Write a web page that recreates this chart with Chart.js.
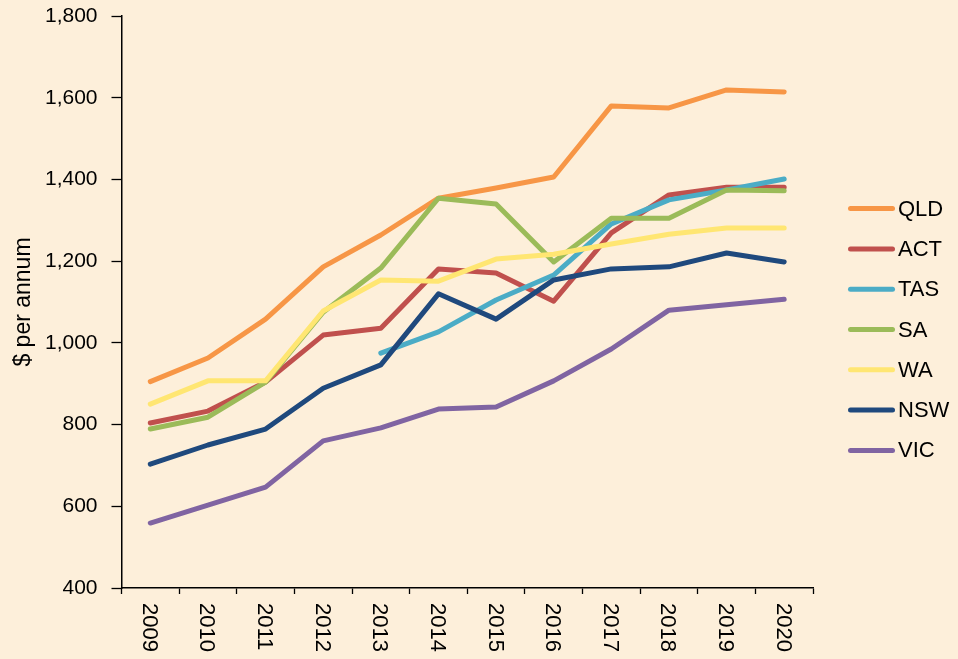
<!DOCTYPE html>
<html>
<head>
<meta charset="utf-8">
<script src="https://cdn.jsdelivr.net/npm/chart.js@4.4.1/dist/chart.umd.min.js"></script>
<style>
  html, body { margin: 0; padding: 0; background: #fdefda; }
  #wrap { width: 958px; height: 659px; }
</style>
</head>
<body>
<div id="wrap"><canvas id="chart" width="958" height="659"></canvas></div>
<script>
// Dados
const years = ['2009', '2010', '2011', '2012', '2013', '2014', '2015', '2016', '2017', '2018', '2019', '2020'];
const qld = [905, 963, 1058, 1186, 1264, 1354, 1379, 1406, 1580, 1575, 1619, 1614];
const act = [804, 833, 904, 1019, 1036, 1181, 1171, 1102, 1269, 1362, 1381, 1381];
const tas = [null, null, null, null, 975, 1027, 1105, 1166, 1291, 1350, 1374, 1401];
const sa = [789, 818, 904, 1075, 1183, 1354, 1340, 1198, 1305, 1305, 1374, 1372];
const wa = [850, 907, 907, 1078, 1154, 1151, 1205, 1217, 1242, 1266, 1281, 1281];
const nsw = [703, 750, 789, 889, 946, 1120, 1058, 1154, 1181, 1186, 1220, 1198];
const vic = [559, 603, 647, 760, 792, 838, 843, 907, 985, 1080, 1093, 1107];
const yTicks = [400, 600, 800, 1000, 1200, 1400, 1600, 1800];

const seriesNames = ['QLD', 'ACT', 'TAS', 'SA', 'WA', 'NSW', 'VIC'];
const seriesData = [qld, act, tas, sa, wa, nsw, vic];
const seriesColors = ['#f79646', '#c0504d', '#4bacc6', '#9bbb59', '#ffe672', '#1f497d', '#8064a2'];

const bg = '#fdefda';
const fontFamily = '"Liberation Sans", Arial, sans-serif';

// Fundo, rótulos do eixo X (girados no sentido horário) e legenda à direita
const customDraw = {
    id: 'customDraw',
    beforeDraw(chart) {
        const ctx = chart.ctx;
        ctx.save();
        ctx.fillStyle = bg;
        ctx.fillRect(0, 0, chart.width, chart.height);
        ctx.restore();
    },
    afterDraw(chart) {
        const ctx = chart.ctx;
        const xScale = chart.scales.x;
        ctx.save();
        ctx.fillStyle = '#000';
        ctx.font = '22px ' + fontFamily;
        ctx.textAlign = 'left';
        ctx.textBaseline = 'middle';
        years.forEach((label, i) => {
            const x = xScale.getPixelForTick(i) - 1.5;
            ctx.save();
            ctx.translate(x, xScale.top + 15);
            ctx.rotate(Math.PI / 2);
            ctx.fillText(label, 0, 0);
            ctx.restore();
        });

        // legenda
        const legendX = 848;
        const lineLen = 47;
        const step = 40.3;
        const midY = chart.height / 2;
        chart.data.datasets.forEach((ds, i) => {
            const y = midY + (i - (chart.data.datasets.length - 1) / 2) * step;
            ctx.strokeStyle = ds.borderColor;
            ctx.lineWidth = 5;
            ctx.lineCap = 'round';
            ctx.beginPath();
            ctx.moveTo(legendX + 2.5, y);
            ctx.lineTo(legendX + lineLen - 2.5, y);
            ctx.stroke();
            ctx.fillStyle = '#000';
            ctx.fillText(ds.label, legendX + lineLen + 3, y + 1);
        });
        ctx.restore();
    }
};

const chart = new Chart(document.getElementById('chart').getContext('2d'), {
    type: 'line',
    data: {
        labels: years,
        datasets: seriesNames.map((name, i) => ({
            label: name,
            data: seriesData[i],
            borderColor: seriesColors[i],
            backgroundColor: seriesColors[i],
            borderWidth: 5,
            borderCapStyle: 'round',
            borderJoinStyle: 'round',
            pointRadius: 0,
            tension: 0,
            fill: false,
            order: seriesNames.length - i
        }))
    },
    options: {
        responsive: false,
        animation: false,
        devicePixelRatio: 1,
        layout: { padding: { top: 16, right: 145, left: 0, bottom: 0 } },
        plugins: {
            legend: { display: false },
            tooltip: { enabled: false }
        },
        scales: {
            x: {
                offset: true,
                afterFit(scale) {
                    scale.height = 71;
                    scale.paddingLeft = 0;
                    scale.paddingRight = 0;
                },
                grid: {
                    offset: true,
                    drawOnChartArea: false,
                    tickLength: 6,
                    tickColor: '#000',
                    tickWidth: 1.3
                },
                border: { color: '#000', width: 1.5 },
                ticks: {
                    color: 'rgba(0,0,0,0)',
                    font: { family: fontFamily, size: 22 },
                    minRotation: 90,
                    maxRotation: 90
                }
            },
            y: {
                min: 400,
                max: 1800,
                afterBuildTicks(scale) {
                    scale.ticks = yTicks.map(v => ({ value: v }));
                },
                afterFit(scale) {
                    scale.width = 121.5;
                    scale.paddingTop = 0;
                    scale.paddingBottom = 0;
                },
                grid: {
                    drawOnChartArea: false,
                    tickLength: 10,
                    tickColor: '#000',
                    tickWidth: 1.3
                },
                border: { color: '#000', width: 1.5 },
                ticks: {
                    color: '#000',
                    font: { family: fontFamily, size: 21 },
                    padding: 14,
                    callback: v => v.toLocaleString('en-US')
                },
                title: {
                    display: true,
                    text: '$ per annum',
                    color: '#000',
                    font: { family: fontFamily, size: 23 },
                    padding: { top: 10, bottom: 0 }
                }
            }
        }
    },
    plugins: [customDraw]
});
</script>
</body>
</html>
